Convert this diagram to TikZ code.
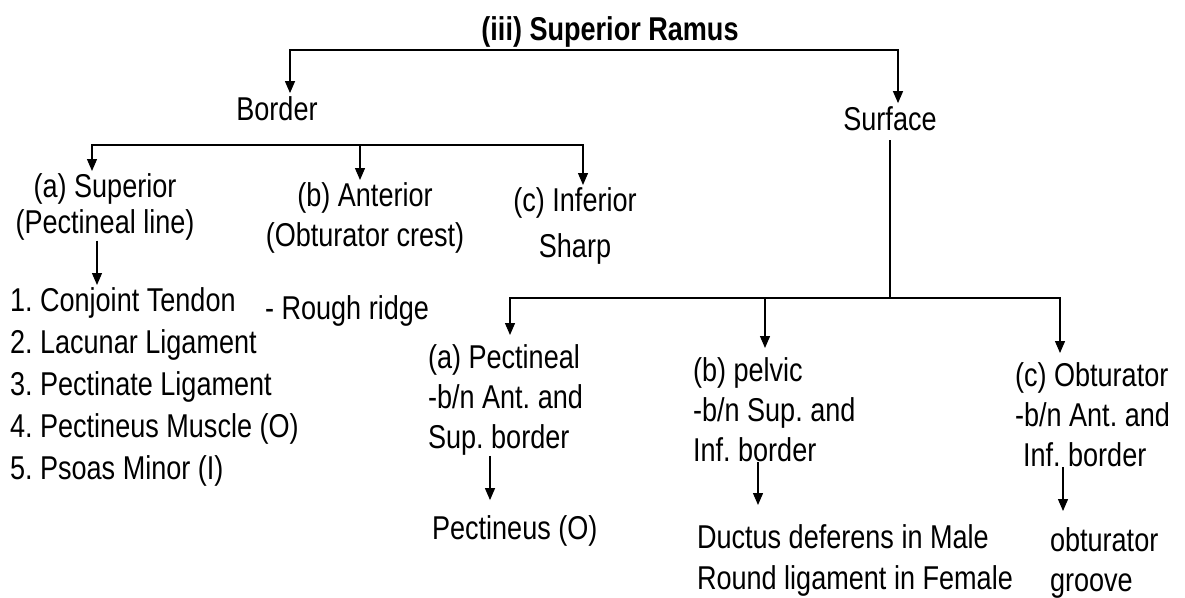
\documentclass[tikz,border=0pt]{standalone}
\usepackage{fontspec}
\setmainfont{Liberation Sans}[FakeStretch=0.82]
\usetikzlibrary{arrows.meta,calc}
\frenchspacing

\begin{document}
\begin{tikzpicture}[x=1pt,y=-1pt,
  txt/.style={inner sep=0pt,outer sep=0pt,font=\fontsize{33}{40}\selectfont},
  arr/.style={line width=1.3pt,-{Triangle[length=12pt,width=10pt]},shorten >=3pt},
  ln/.style={line width=1.3pt}]
\useasboundingbox (0,0) rectangle (1185,597);

\node[txt,font=\fontsize{33}{40}\selectfont\bfseries,anchor=base] (title) at (610,40) {(iii) Superior Ramus};
\node[txt,anchor=base] (border) at (277,120) {Border};
\node[txt,anchor=base] (surface) at (890,130) {Surface};

\coordinate (rbar) at (610,50);
\draw[arr] (rbar) -| ([xshift=13pt]border.north);
\draw[arr] (rbar) -| ([xshift=8pt]surface.north);

\node[txt,font=\fontsize{33}{36}\selectfont,align=center,anchor=north] (supA) at (105,174) {(a) Superior\\(Pectineal line)};
\node[txt,align=center,anchor=north] (antB) at (365,183) {(b) Anterior\\(Obturator crest)};
\node[txt,font=\fontsize{33}{46}\selectfont,align=center,anchor=north] (infC) at (575,188) {(c) Inferior\\Sharp};

\coordinate (bbar) at (277,145);
\draw[arr] (bbar) -| ([xshift=-13pt]supA.north);
\draw[arr] (bbar) -| ([xshift=-5pt]antB.north);
\draw[arr] (bbar) -| ([xshift=8pt]infC.north);

\node[txt,font=\fontsize{33}{42}\selectfont,align=left,anchor=north west] (list) at (10,288)
  {1. Conjoint Tendon\\2. Lacunar Ligament\\3. Pectinate Ligament\\4. Pectineus Muscle (O)\\5. Psoas Minor (I)};
\node[txt,anchor=base west] (rough) at (265,319) {- Rough ridge};
\draw[arr] ([xshift=-8pt]supA.south) -- ([xshift=-8pt]supA.south |- list.north);

\node[txt,align=left,anchor=north west] (pectA) at (428,345) {(a) Pectineal\\-b/n Ant. and\\Sup. border};
\node[txt,align=left,anchor=north west] (pelvB) at (693,358) {(b) pelvic\\-b/n Sup. and\\Inf. border};
\node[txt,align=left,anchor=north west] (obtC) at (1015,363) {(c) Obturator\\-b/n Ant. and\\\hspace*{8pt}Inf. border};

\coordinate (sbar) at (890,298);
\draw[ln] ([yshift=-10pt]surface.south) -- (sbar);
\draw[arr,shorten >=10pt] (sbar) -| ([xshift=82pt]pectA.north west);
\draw[arr,shorten >=10pt] (sbar) -| ([xshift=72pt]pelvB.north west);
\draw[arr,shorten >=10pt] (sbar) -| ([xshift=45pt]obtC.north west);

\node[txt,anchor=base west] (pectineus) at (432,539) {Pectineus (O)};
\node[txt,font=\fontsize{33}{41}\selectfont,align=left,anchor=north west] (ductus) at (697,525)
  {Ductus deferens in Male\\Round ligament in Female};
\node[txt,align=left,anchor=north west] (groove) at (1050,528) {obturator\\groove};

\draw[arr,shorten >=15pt] ([xshift=62pt]pectA.south west) -- ([xshift=62pt]pectA.south west |- pectineus.north);
\draw[arr,shorten >=20pt] ([xshift=65pt]pelvB.south west) -- ([xshift=65pt]pelvB.south west |- ductus.north);
\draw[arr,shorten >=17pt] ([xshift=48pt]obtC.south west) -- ([xshift=48pt]obtC.south west |- groove.north);
\end{tikzpicture}
\end{document}
